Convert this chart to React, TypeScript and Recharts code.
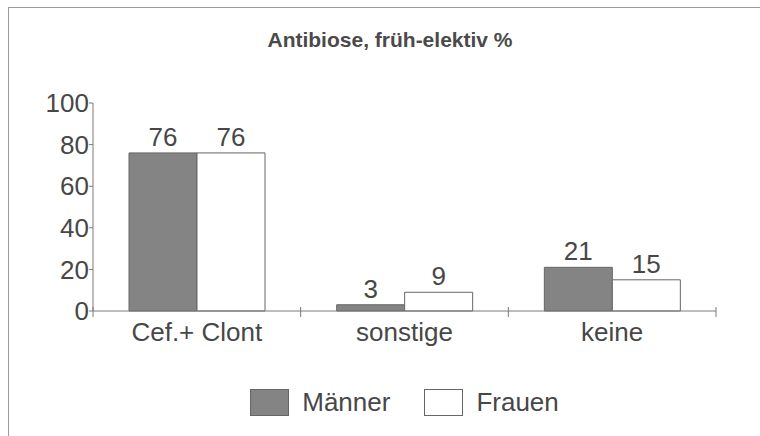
import React from "react";
import { BarChart, Bar, XAxis, YAxis, Legend, LabelList } from "recharts";

const categories = ["Cef.+ Clont", "sonstige", "keine"];
const maenner = [76, 3, 21];
const frauen = [76, 9, 15];
const seriesOrder = ["Männer", "Frauen"];
const yTicks = [0, 20, 40, 60, 80, 100];

const FONT = "'Liberation Sans', Arial, sans-serif";
const TEXT = "#474747";
const LINE = "#7a7a7a";

const data = categories.map((name, i) => ({ name, Männer: maenner[i], Frauen: frauen[i] }));

// category label plus the small ticks at the category borders, crossing the axis line
const CategoryTick = ({ x, y, width, visibleTicksCount, index, payload }: any) => {
  const band = width / (visibleTicksCount || categories.length);
  const borders = index === visibleTicksCount - 1 ? [x - band / 2, x + band / 2] : [x - band / 2];
  return (
    <g>
      {borders.map((bx) => (
        <line key={bx} x1={bx} x2={bx} y1={y - 4} y2={y + 6} stroke={LINE} strokeWidth={1} />
      ))}
      <text x={x} y={y + 12} dy="0.71em" textAnchor="middle" fill={TEXT} fontSize={26} fontFamily={FONT}>
        {payload.value}
      </text>
    </g>
  );
};

const LegendBoxes = ({ payload }: any) => {
  const items = [...(payload || [])].sort(
    (a: any, b: any) => seriesOrder.indexOf(a.value) - seriesOrder.indexOf(b.value)
  );
  return (
    <div style={{ display: "flex", justifyContent: "center", alignItems: "center", fontFamily: FONT }}>
      {items.map((entry: any, i: number) => (
        <div key={entry.value} style={{ display: "flex", alignItems: "center", marginLeft: i === 0 ? 0 : 34 }}>
          <div
            style={{
              width: 37,
              height: 25,
              background: entry.color,
              border: "1px solid #666",
              marginRight: 13,
            }}
          />
          <span style={{ fontSize: 26, lineHeight: "27px", color: TEXT }}>{entry.value}</span>
        </div>
      ))}
    </div>
  );
};

export default function App() {
  return (
    <div
      style={{
        position: "absolute",
        left: 8,
        top: 7,
        width: 751,
        height: 428,
        borderTop: "1px solid #9a9a9a",
        borderLeft: "1px solid #9a9a9a",
        fontFamily: FONT,
      }}
    >
      <div
        style={{
          position: "absolute",
          left: 0,
          top: 21,
          width: 762,
          textAlign: "center",
          fontSize: 21,
          lineHeight: "21px",
          fontWeight: "bold",
          color: "#4a4a4a",
        }}
      >
        Antibiose, früh-elektiv %
      </div>
      <BarChart
        width={751}
        height={428}
        data={data}
        margin={{ top: 95, right: 44, left: 24, bottom: 85 }}
        barGap={0}
        barCategoryGap={36}
      >
        <XAxis
          dataKey="name"
          height={40}
          axisLine={{ stroke: LINE }}
          tickLine={false}
          tickSize={0}
          tickMargin={0}
          interval={0}
          tick={<CategoryTick />}
        />
        <YAxis
          domain={[0, 100]}
          ticks={yTicks}
          width={60}
          axisLine={{ stroke: LINE }}
          tickLine={{ stroke: LINE }}
          tickSize={4}
          tickMargin={0}
          tick={{ fill: TEXT, fontSize: 26, fontFamily: FONT }}
        />
        <Legend
          layout="horizontal"
          verticalAlign="middle"
          align="center"
          wrapperStyle={{ top: 381, left: 84, width: 623 }}
          content={<LegendBoxes />}
        />
        <Bar dataKey="Männer" fill="#848484" stroke="#666" strokeWidth={1} isAnimationActive={false}>
          <LabelList dataKey="Männer" position="top" offset={7} fill={TEXT} fontSize={26} fontFamily={FONT} />
        </Bar>
        <Bar dataKey="Frauen" fill="#ffffff" stroke="#666" strokeWidth={1} isAnimationActive={false}>
          <LabelList dataKey="Frauen" position="top" offset={7} fill={TEXT} fontSize={26} fontFamily={FONT} />
        </Bar>
      </BarChart>
    </div>
  );
}
